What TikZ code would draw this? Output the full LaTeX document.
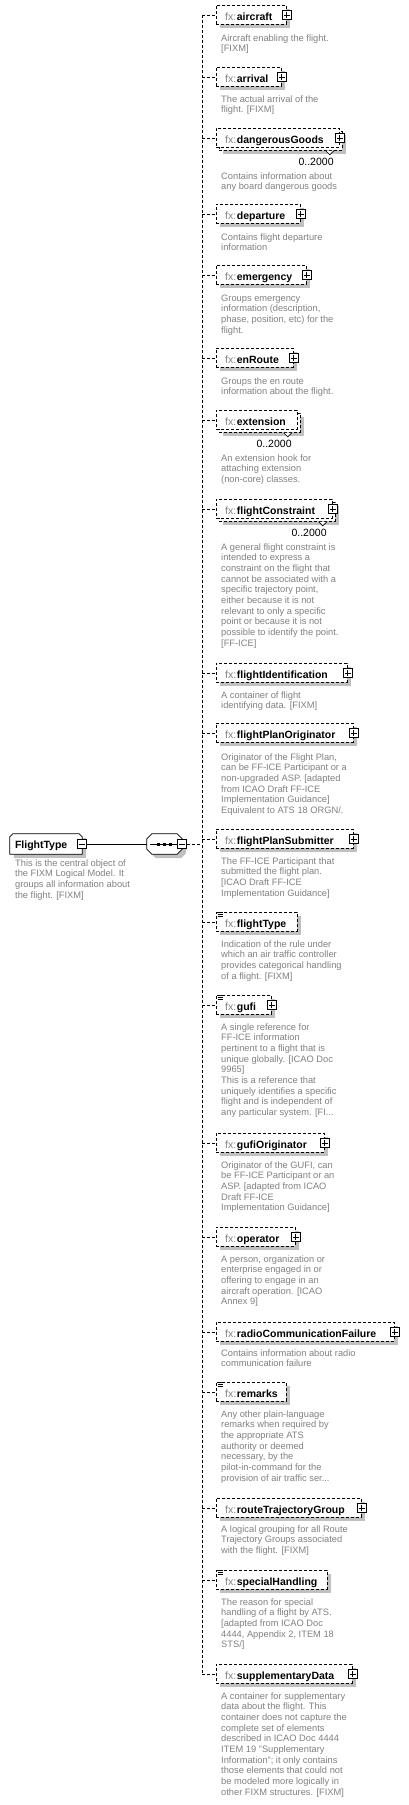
\documentclass[tikz,border=0pt]{standalone}
\usepackage{fontspec}
\setmainfont{Liberation Sans}
\usetikzlibrary{calc,shadows}
\definecolor{dgray}{RGB}{128,128,128}
\definecolor{shgray}{RGB}{192,192,192}
\definecolor{fxgray}{RGB}{128,128,128}
\tikzset{
  bx/.style={draw, dash pattern=on 3pt off 2pt, line width=0.8pt, fill=white, minimum height=19pt, inner sep=0pt, anchor=north west},
  sbx/.style={bx, drop shadow={shadow xshift=4pt, shadow yshift=-4pt, opacity=1, fill=shgray, draw=none}},
  pbox/.style={draw, solid, line width=0.7pt, fill=white, minimum size=9pt, inner sep=0pt},
  conn/.style={draw, dash pattern=on 3pt off 2pt, line width=0.8pt},
  sconn/.style={draw, line width=0.8pt},
  lbl/.style={anchor=base west, inner sep=0pt, font=\fontsize{10.5}{12}\selectfont},
  desc/.style={anchor=base west, inner sep=0pt, text=dgray, font=\fontsize{9.3}{10.7}\selectfont},
  occ/.style={anchor=base east, inner sep=0pt, font=\fontsize{10.5}{12}\selectfont},
}
\newcommand\fxl[1]{{\color{fxgray}fx:}\hspace{0.6pt}\textbf{#1}}
\newcommand\dsc[1]{\begin{tabular}[t]{@{}l@{}}#1\end{tabular}}
\newcommand\plusic[1]{%
  \node[pbox] (#1-p) at (#1.east) {};
  \draw[line width=0.7pt] ($(#1-p.center)+(-3,0)$) -- ($(#1-p.center)+(3,0)$)
    ($(#1-p.center)+(0,-3)$) -- ($(#1-p.center)+(0,3)$);}
\newcommand\eqic[1]{%
  \draw[line width=0.6pt] ($(#1.north west)+(1,0.5)$) -- +(6,0)
    ($(#1.north west)+(1.5,2.5)$) -- +(5.5,0)
    ($(#1.north west)+(1.5,4.5)$) -- +(5.5,0);}
\newcommand\EL[3]{%
  \node[sbx, minimum width={#3pt-216pt}] (#1) at (216,#2) {};
  \node[lbl] (#1-t) at ($(#1.west)+(9,5.5)$) {\fxl{#1}};
  \coordinate (#1-s) at ($(#1.west)+(-14,0)$);
  \draw[conn] (#1-s) -- (#1.west);}
\newcommand\ELM[3]{%
  \node[sbx, minimum width={#3pt-216pt}] (#1-b) at (219,#2+3) {};
  \draw[line width=0.7pt, fill=white] ($(#1-b.south east)+(-17,0)$) -- ++(4,4) -- ++(4,-4);
  \node[bx, minimum width={#3pt-216pt}] (#1) at (216,#2) {};
  \node[lbl] (#1-t) at ($(#1.west)+(9,5.5)$) {\fxl{#1}};
  \coordinate (#1-s) at ($(#1.west)+(-14,0)$);
  \draw[conn] (#1-s) -- (#1.west);
  \node[occ] (#1-o) at ($(#1.south east)+(-6,17.5)$) {0..2000};}
\newcommand\seqpath[2]{($(seq.north west)+(5+#1,#2)$) -- ($(seq.north east)+(-5+#1,#2)$) -- ($(seq.north east)+(#1,5+#2)$) -- ($(seq.south east)+(#1,-5+#2)$) -- ($(seq.south east)+(-5+#1,#2)$) -- ($(seq.south west)+(5+#1,#2)$) -- ($(seq.south west)+(#1,-5+#2)$) -- ($(seq.north west)+(#1,5+#2)$) -- cycle}
\begin{document}
\begin{tikzpicture}[x=1pt,y=-1pt]
\useasboundingbox (0,0) rectangle (409,1805);

% root type
\node[minimum width=72pt, minimum height=20pt, inner sep=0pt] (ft) at (46,844) {};
\fill[shgray] ($(ft.north west)+(4,4)$) rectangle ($(ft.south east)+(4,4)$);
\draw[line width=0.8pt, fill=white] (ft.south west) -- ($(ft.north west)+(0,3)$) -- ($(ft.north west)+(3,0)$) -- ($(ft.north east)+(-3,0)$) -- ($(ft.north east)+(0,3)$) -- (ft.south east) -- cycle;
\node[lbl] (ft-t) at ($(ft.west)+(5,4)$) {\textbf{FlightType}};
\node[pbox] (ft-m) at (ft.east) {};
\draw[line width=0.7pt] ($(ft-m.center)+(-3,0)$) -- ($(ft-m.center)+(3,0)$);
\node[desc] (ft-d) at (15,866) {\dsc{This is the central object of\\the FIXM Logical Model. It\\groups all information about\\the flight. [FIXM]}};

% sequence compositor
\node[minimum width=35pt, minimum height=20pt, inner sep=0pt] (seq) at (164.5,844) {};
\fill[shgray] \seqpath{4}{4};
\draw[line width=0.8pt, fill=white] \seqpath{0}{0};
\draw[line width=0.8pt] ($(seq.west)+(3,0)$) -- ($(seq.east)+(-3,0)$);
\foreach \dx in {-6,0,6} {\fill ($(seq.center)+(\dx-1.5,-1.5)$) rectangle ($(seq.center)+(\dx+1.5,1.5)$);}
\node[pbox] (seq-m) at (seq.east) {};
\draw[line width=0.7pt] ($(seq-m.center)+(-3,0)$) -- ($(seq-m.center)+(3,0)$);
\draw[sconn] (ft-m.east) -- (seq.west);
\coordinate (spj) at (202,844);
\draw[conn] (seq-m.east) -- (spj);

% children
\EL{aircraft}{5}{286}\plusic{aircraft}
\node[desc] (aircraft-d) at (221,41) {\dsc{Aircraft enabling the flight.\\{}[FIXM]}};

\EL{arrival}{67}{281}\plusic{arrival}
\node[desc] (arrival-d) at (221,102) {\dsc{The actual arrival of the\\flight. [FIXM]}};

\ELM{dangerousGoods}{128}{339}\plusic{dangerousGoods}
\node[desc] (dangerousGoods-d) at (221,179) {\dsc{Contains information about\\any board dangerous goods}};

\EL{departure}{204}{300}\plusic{departure}
\node[desc] (departure-d) at (221,240) {\dsc{Contains flight departure\\information}};

\EL{emergency}{265}{306}\plusic{emergency}
\node[desc] (emergency-d) at (221,301) {\dsc{Groups emergency\\information (description,\\phase, position, etc) for the\\flight.}};

\EL{enRoute}{348}{293}\plusic{enRoute}
\node[desc] (enRoute-d) at (221,384) {\dsc{Groups the en route\\information about the flight.}};

\ELM{extension}{410}{297}
\node[desc] (extension-d) at (221,461) {\dsc{An extension hook for\\attaching extension\\(non-core) classes.}};

\ELM{flightConstraint}{499}{332}\plusic{flightConstraint}
\node[desc] (flightConstraint-d) at (221,550) {\dsc{A general flight constraint is\\intended to express a\\constraint on the flight that\\cannot be associated with a\\specific trajectory point,\\either because it is not\\relevant to only a specific\\point or because it is not\\possible to identify the point.\\{}[FF-ICE]}};

\EL{flightIdentification}{663}{347}\plusic{flightIdentification}
\node[desc] (flightIdentification-d) at (221,698) {\dsc{A container of flight\\identifying data. [FIXM]}};

\EL{flightPlanOriginator}{723}{353}\plusic{flightPlanOriginator}
\node[desc] (flightPlanOriginator-d) at (221,760) {\dsc{Originator of the Flight Plan,\\can be FF-ICE Participant or a\\non-upgraded ASP. [adapted\\from ICAO Draft FF-ICE\\Implementation Guidance]\\Equivalent to ATS 18 ORGN/.}};

\EL{flightPlanSubmitter}{829}{353}\plusic{flightPlanSubmitter}
\node[desc] (flightPlanSubmitter-d) at (221,864) {\dsc{The FF-ICE Participant that\\submitted the flight plan.\\{}[ICAO Draft FF-ICE\\Implementation Guidance]}};

\EL{flightType}{912}{297}\eqic{flightType}
\node[desc] (flightType-d) at (221,947) {\dsc{Indication of the rule under\\which an air traffic controller\\provides categorical handling\\of a flight. [FIXM]}};

\EL{gufi}{995}{271}\plusic{gufi}\eqic{gufi}
\node[desc] (gufi-d) at (221,1030) {\dsc{A single reference for\\FF-ICE information\\pertinent to a flight that is\\unique globally. [ICAO Doc\\9965]\\This is a reference that\\uniquely identifies a specific\\flight and is independent of\\any particular system. [FI...}};

\EL{gufiOriginator}{1133}{324}\plusic{gufiOriginator}
\node[desc] (gufiOriginator-d) at (221,1168) {\dsc{Originator of the GUFI, can\\be FF-ICE Participant or an\\ASP. [adapted from ICAO\\Draft FF-ICE\\Implementation Guidance]}};

\EL{operator}{1227}{295}\plusic{operator}
\node[desc] (operator-d) at (221,1262) {\dsc{A person, organization or\\enterprise engaged in or\\offering to engage in an\\aircraft operation. [ICAO\\Annex 9]}};

\EL{radioCommunicationFailure}{1322}{394}\plusic{radioCommunicationFailure}
\node[desc] (radioCommunicationFailure-d) at (221,1356) {\dsc{Contains information about radio\\communication failure}};

\EL{remarks}{1382}{286}\eqic{remarks}
\node[desc] (remarks-d) at (221,1417) {\dsc{Any other plain-language\\remarks when required by\\the appropriate ATS\\authority or deemed\\necessary, by the\\pilot-in-command for the\\provision of air traffic ser...}};

\EL{routeTrajectoryGroup}{1498}{361}\plusic{routeTrajectoryGroup}
\node[desc] (routeTrajectoryGroup-d) at (221,1532) {\dsc{A logical grouping for all Route\\Trajectory Groups associated\\with the flight. [FIXM]}};

\EL{specialHandling}{1570}{327}\eqic{specialHandling}
\node[desc] (specialHandling-d) at (221,1605) {\dsc{The reason for special\\handling of a flight by ATS.\\{}[adapted from ICAO Doc\\4444, Appendix 2, ITEM 18\\STS/]}};

\EL{supplementaryData}{1664}{352}\plusic{supplementaryData}
\node[desc] (supplementaryData-d) at (221,1699) {\dsc{A container for supplementary\\data about the flight. This\\container does not capture the\\complete set of elements\\described in ICAO Doc 4444\\ITEM 19 "Supplementary\\Information"; it only contains\\those elements that could not\\be modeled more logically in\\other FIXM structures. [FIXM]}};

% spine
\draw[conn] (aircraft-s) -- (supplementaryData-s);
\end{tikzpicture}
\end{document}
